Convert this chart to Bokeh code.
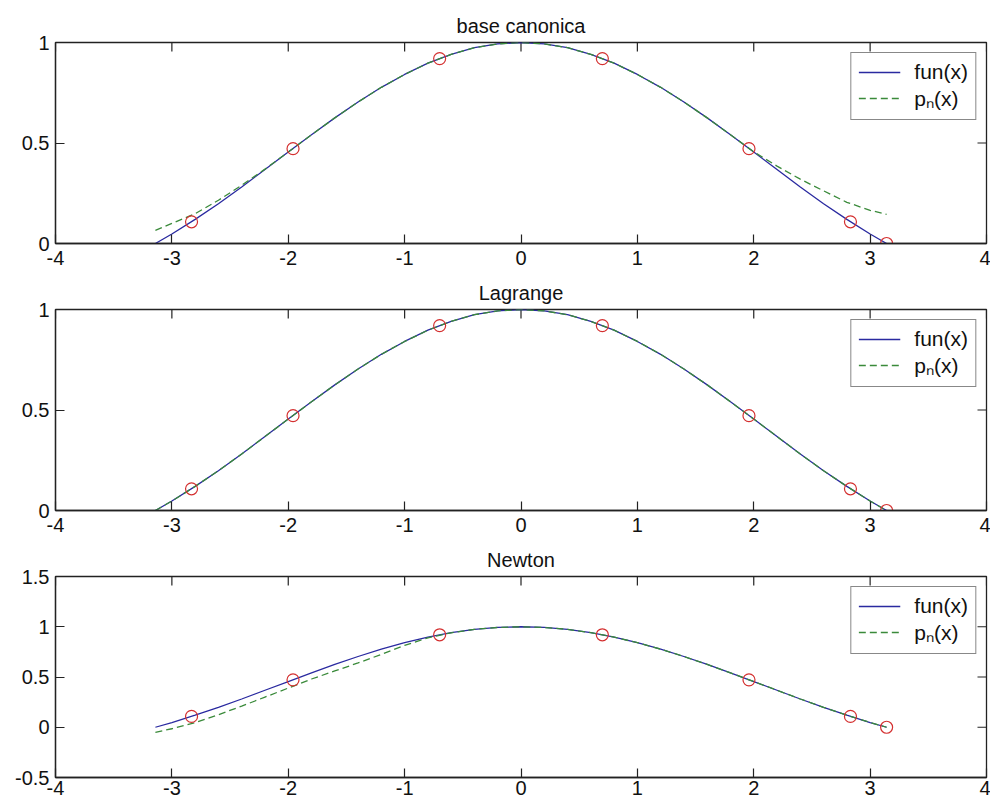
from math import pi
from bokeh.plotting import figure
from bokeh.layouts import column
from bokeh.models import Range1d, FixedTicker, Legend, LegendItem
from bokeh.embed import file_html
from bokeh.resources import INLINE

# sample abscissae along the curves
xs = [-3.1416, -3.0, -2.8, -2.6, -2.4, -2.2, -2.0, -1.8, -1.6, -1.4, -1.2, -1.0,
      -0.8, -0.6, -0.4, -0.2, 0.0, 0.2, 0.4, 0.6, 0.8, 1.0, 1.2, 1.4, 1.6, 1.8,
      2.0, 2.2, 2.4, 2.6, 2.8, 3.0, 3.1416]
# fun(x)
fun_y = [0.000, 0.047, 0.120, 0.198, 0.281, 0.368, 0.455, 0.541, 0.625, 0.704, 0.777, 0.841,
         0.897, 0.941, 0.974, 0.993, 1.000, 0.993, 0.974, 0.941, 0.897, 0.841, 0.777, 0.704,
         0.625, 0.541, 0.455, 0.368, 0.281, 0.198, 0.120, 0.047, 0.000]
# p_n(x), base canonica
p_canon = [0.065, 0.100, 0.148, 0.215, 0.290, 0.370, 0.455, 0.541, 0.625, 0.704, 0.777, 0.841,
           0.897, 0.941, 0.974, 0.993, 1.000, 0.993, 0.974, 0.941, 0.897, 0.841, 0.777, 0.704,
           0.625, 0.541, 0.456, 0.385, 0.320, 0.262, 0.205, 0.165, 0.145]
# p_n(x), Lagrange
p_lagr = [0.000, 0.047, 0.120, 0.198, 0.281, 0.368, 0.455, 0.541, 0.625, 0.704, 0.777, 0.841,
          0.897, 0.941, 0.974, 0.993, 1.000, 0.993, 0.974, 0.941, 0.897, 0.841, 0.777, 0.704,
          0.625, 0.541, 0.455, 0.368, 0.281, 0.198, 0.120, 0.047, 0.000]
# p_n(x), Newton
p_newt = [-0.050, -0.015, 0.045, 0.125, 0.210, 0.300, 0.390, 0.480, 0.560, 0.640, 0.725, 0.815,
          0.890, 0.940, 0.974, 0.993, 1.000, 0.993, 0.974, 0.941, 0.897, 0.841, 0.777, 0.704,
          0.625, 0.541, 0.455, 0.368, 0.281, 0.198, 0.120, 0.047, 0.000]
# interpolation nodes
node_x = [-2.831, -1.959, -0.699, 0.699, 1.959, 2.831, 3.1416]
node_y = [0.108, 0.472, 0.920, 0.920, 0.472, 0.108, 0.000]

titles = ["base canonica", "Lagrange", "Newton"]
x_ticks = [-4, -3, -2, -1, 0, 1, 2, 3, 4]
x_labels = ["-4", "-3", "-2", "-1", "0", "1", "2", "3", "4"]
y_ticks_a = [0, 0.5, 1]
y_labels_a = ["0", "0.5", "1"]
y_ticks_b = [-0.5, 0, 0.5, 1, 1.5]
y_labels_b = ["-0.5", "0", "0.5", "1", "1.5"]

FONT = "Liberation Sans"
BLUE = "#2a2aa0"
GREEN = "#3a8a3a"
RED = "#d43030"
AX = "#222222"


def style_axis(ax, ticks, labels, standoff):
    ax.ticker = FixedTicker(ticks=ticks)
    ax.major_label_overrides = {t: l for t, l in zip(ticks, labels)}
    ax.major_tick_in = 9
    ax.major_tick_out = 0
    ax.minor_tick_in = 0
    ax.minor_tick_out = 0
    ax.axis_line_width = 1.3
    ax.axis_line_color = AX
    ax.major_tick_line_color = AX
    ax.major_tick_line_width = 1.2
    ax.major_label_text_font = FONT
    ax.major_label_text_color = "#111111"
    ax.major_label_text_font_size = "20px"
    ax.major_label_standoff = standoff


def make(title, pvals, yr, yt, yl, h, mbt, mbb, xstand):
    p = figure(width=990, height=h, output_backend="svg", toolbar_location=None,
               x_range=Range1d(-4, 4), y_range=Range1d(*yr),
               min_border_left=55, min_border_right=4,
               min_border_top=mbt, min_border_bottom=mbb, title=title)
    p.title.align = "center"
    p.title.text_font = FONT
    p.title.text_font_size = "20px"
    p.title.text_font_style = "normal"
    p.title.text_color = "#111111"
    p.title.standoff = 12
    p.grid.visible = False
    p.outline_line_color = AX
    p.outline_line_width = 1.3
    style_axis(p.xaxis[0], x_ticks, x_labels, xstand)
    style_axis(p.yaxis[0], yt, yl, 6)

    # inward ticks mirrored on the top and right edges of the box
    p.scatter(x_ticks, [yr[1]] * len(x_ticks), marker="dash", angle=pi / 2, size=18,
              line_color=AX, line_width=1.2)
    p.scatter([4] * len(yt), yt, marker="dash", size=18, line_color=AX, line_width=1.2)

    r1 = p.line(xs, fun_y, line_color=BLUE, line_width=1.3)
    r2 = p.line(xs, pvals, line_color=GREEN, line_width=1.3, line_dash="7 4")
    p.scatter(node_x, node_y, marker="circle", size=12, fill_color=None,
              line_color=RED, line_width=1.2)

    legend = Legend(items=[LegendItem(label="fun(x)", renderers=[r1]),
                           LegendItem(label="pₙ(x)", renderers=[r2])],
                    location="top_right", margin=10, padding=7, spacing=-3,
                    glyph_width=42, glyph_height=20, label_height=20,
                    label_standoff=14,
                    label_text_font=FONT, label_text_font_size="21px",
                    label_text_color="#111111",
                    border_line_color="#111111", border_line_width=1.2,
                    background_fill_alpha=1.0)
    p.add_layout(legend)
    return p


p1 = make(titles[0], p_canon, (0, 1), y_ticks_a, y_labels_a, 273, 42, 30, 7)
p2 = make(titles[1], p_lagr, (0, 1), y_ticks_a, y_labels_a, 267, 36, 30, 7)
p3 = make(titles[2], p_newt, (-0.5, 1.5), y_ticks_b, y_labels_b, 263, 36, 26, 3)

layout = column(p1, p2, p3, spacing=0)
open("out.html", "w").write(file_html(layout, INLINE))
